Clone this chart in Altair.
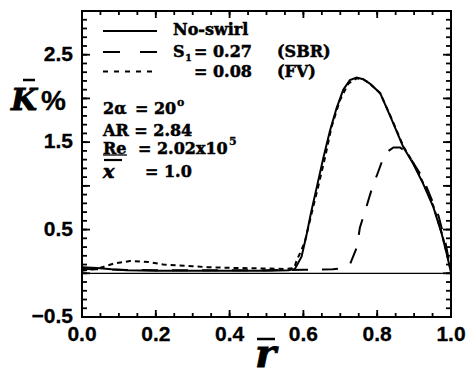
import altair as alt
import pandas as pd

# ---------------- data ----------------
r_noswirl = [0.0, 0.04, 0.08, 0.12, 0.2, 0.3, 0.4, 0.5, 0.56, 0.577, 0.595, 0.609, 0.621,
             0.636, 0.654, 0.672, 0.690, 0.708, 0.726, 0.744, 0.762, 0.780, 0.808, 0.837,
             0.871, 0.898, 0.925, 0.952, 0.975, 0.988, 1.0]
k_noswirl = [0.07, 0.06, 0.045, 0.035, 0.03, 0.03, 0.03, 0.03, 0.035, 0.05, 0.19, 0.45, 0.70,
             0.98, 1.32, 1.63, 1.89, 2.10, 2.21, 2.24, 2.22, 2.17, 2.06, 1.78,
             1.44, 1.25, 1.02, 0.76, 0.45, 0.23, 0.01]

r_sbr = [0.0, 0.1, 0.2, 0.3, 0.4, 0.5, 0.6, 0.68, 0.71, 0.727, 0.745, 0.753, 0.77, 0.785,
         0.80, 0.821, 0.844, 0.862, 0.88, 0.898, 0.925, 0.943, 0.966, 0.985, 1.0]
k_sbr = [0.05, 0.04, 0.035, 0.035, 0.035, 0.035, 0.04, 0.045, 0.06, 0.11, 0.30, 0.52, 0.75, 0.96,
         1.13, 1.37, 1.44, 1.44, 1.38, 1.26, 1.08, 0.89, 0.66, 0.35, 0.02]

r_fv = [0.0, 0.04, 0.085, 0.13, 0.18, 0.22, 0.3, 0.34, 0.42, 0.5, 0.55, 0.575, 0.582, 0.591,
        0.604, 0.622, 0.640, 0.659, 0.676, 0.699, 0.722, 0.744, 0.762, 0.780, 0.808, 0.837,
        0.871, 0.898, 0.925, 0.952, 0.975, 0.988, 1.0]
k_fv = [0.03, 0.05, 0.11, 0.14, 0.13, 0.10, 0.08, 0.07, 0.06, 0.055, 0.05, 0.06, 0.15, 0.23,
        0.36, 0.68, 0.99, 1.33, 1.67, 1.98, 2.17, 2.23, 2.22, 2.17, 2.06, 1.79,
        1.45, 1.26, 1.03, 0.77, 0.46, 0.24, 0.02]

x_labels = [0.0, 0.2, 0.4, 0.6, 0.8, 1.0]
y_labels = [-0.5, 0.5, 1.5, 2.5]
x_major = [0.0, 0.2, 0.4, 0.6, 0.8, 1.0]
x_minor = [round(0.05 * i, 2) for i in range(21)]
y_major = [-0.5, 0.0, 0.5, 1.0, 1.5, 2.0, 2.5, 3.0]
y_minor = [round(-0.5 + 0.1 * i, 2) for i in range(36)]

# ---------------- layout ----------------
W, H = 369, 306
xs = alt.Scale(domain=[0, 1], nice=False, zero=False)
ys = alt.Scale(domain=[-0.5, 3.0], nice=False, zero=False)
SERIF = "DejaVu Serif"
SANS = "Liberation Sans"


def curve(r, k, dash=None):
    df = pd.DataFrame({"r": r, "k": k})
    kw = dict(color="black", strokeWidth=2, clip=True)
    if dash is not None:
        kw["strokeDash"] = dash
    return alt.Chart(df).mark_line(**kw).encode(
        x=alt.X("r:Q", scale=xs, axis=None),
        y=alt.Y("k:Q", scale=ys, axis=None),
    )


def yticks(vals, length):
    df = pd.DataFrame({"v": vals})
    base = alt.Chart(df).mark_rule(color="black", strokeWidth=1.8)
    left = base.encode(y=alt.Y("v:Q", scale=ys, axis=None), x=alt.value(0), x2=alt.value(length))
    right = base.encode(y=alt.Y("v:Q", scale=ys, axis=None), x=alt.value(W), x2=alt.value(W - length))
    return [left, right]


def xticks(vals, length):
    df = pd.DataFrame({"v": vals})
    base = alt.Chart(df).mark_rule(color="black", strokeWidth=1.8)
    bottom = base.encode(x=alt.X("v:Q", scale=xs, axis=None), y=alt.value(H), y2=alt.value(H - length))
    top = base.encode(x=alt.X("v:Q", scale=xs, axis=None), y=alt.value(0), y2=alt.value(length))
    return [bottom, top]


def txt(s, x, y, size=16, font=SERIF, style="normal", weight="bold", align="left",
        baseline="middle", stroke_w=0.5):
    return alt.Chart(pd.DataFrame({"t": [s]})).mark_text(
        font=font, fontSize=size, fontWeight=weight, fontStyle=style,
        align=align, baseline=baseline, color="black", stroke="black", strokeWidth=stroke_w
    ).encode(text="t:N", x=alt.value(x), y=alt.value(y))


def hline(x1, x2, y, width=2, dash=None):
    kw = dict(color="black", strokeWidth=width)
    if dash is not None:
        kw["strokeDash"] = dash
    return alt.Chart(pd.DataFrame({"a": [0]})).mark_rule(**kw).encode(
        x=alt.value(x1), x2=alt.value(x2), y=alt.value(y))


layers = []
# zero line
layers.append(alt.Chart(pd.DataFrame({"z": [0.0]})).mark_rule(color="black", strokeWidth=1.3).encode(
    y=alt.Y("z:Q", scale=ys, axis=None)))
# curves
layers.append(curve(r_noswirl, k_noswirl))
layers.append(curve(r_sbr, k_sbr, [16, 14]))
layers.append(curve(r_fv, k_fv, [5, 4]))
# ticks
layers += yticks(y_minor, 5) + yticks(y_major, 8)
layers += xticks(x_minor, 4) + xticks(x_major, 7)

# tick labels
xl = pd.DataFrame({"v": x_labels})
layers.append(alt.Chart(xl).mark_text(font=SANS, fontSize=21, fontWeight="bold", baseline="middle",
                                      align="center", color="black", stroke="black", strokeWidth=0.3).encode(
    x=alt.X("v:Q", scale=xs, axis=None), y=alt.value(H + 18), text=alt.Text("v:Q", format=".1f")))
yl = pd.DataFrame({"v": y_labels})
layers.append(alt.Chart(yl).mark_text(font=SANS, fontSize=21, fontWeight="bold", baseline="middle",
                                      align="right", color="black", stroke="black", strokeWidth=0.3).encode(
    y=alt.Y("v:Q", scale=ys, axis=None), x=alt.value(-9), text=alt.Text("v:Q", format=".1f")))

# axis titles
layers.append(txt("K", -71, 99, size=30, style="italic", baseline="alphabetic", stroke_w=0.8))
layers.append(hline(-59, -47, 69, width=2.5))
layers.append(txt("%", -41, 99, size=28, font=SANS, baseline="alphabetic", stroke_w=0.3))
layers.append(txt("r", 173, 356, size=40, style="italic", baseline="alphabetic", stroke_w=0.8))
layers.append(hline(175, 193, 328, width=2.5))

# legend
layers.append(hline(21, 75, 20))
layers.append(hline(21, 75, 41, dash=[17, 20]))
layers.append(hline(21, 75, 60.5, dash=[5, 6]))
layers.append(txt("No-swirl", 91, 19))
layers.append(txt("S", 91, 41))
layers.append(txt("1", 103, 47, size=10, stroke_w=0.3))
layers.append(txt("= 0.27", 112, 41))
layers.append(txt("(SBR)", 195, 41))
layers.append(txt("= 0.08", 112, 60.5))
layers.append(txt("(FV)", 195, 60.5))

# annotations
layers.append(txt("2α", 21, 98))
layers.append(txt("= 20", 53, 98))
layers.append(txt("o", 95, 92, size=11, stroke_w=0.3))
layers.append(txt("AR = 2.84", 21, 120))
layers.append(txt("Re", 21, 138))
layers.append(hline(21, 45, 144, width=1.3))
layers.append(txt("= 2.02x10", 56, 138))
layers.append(txt("5", 147, 131, size=11, stroke_w=0.3))
layers.append(txt("x", 21, 161, size=19, style="italic", stroke_w=0.7))
layers.append(hline(22, 40, 149, width=2.2))
layers.append(txt("= 1.0", 63, 161))

chart = alt.layer(*layers).properties(
    width=W, height=H,
    padding={"left": 82, "top": 11, "right": 17, "bottom": 54},
    autosize=alt.AutoSizeParams(type="none"),
).configure_view(stroke="black", strokeWidth=2)

chart.save("out.html", embed_options={"renderer": "svg", "actions": False})
